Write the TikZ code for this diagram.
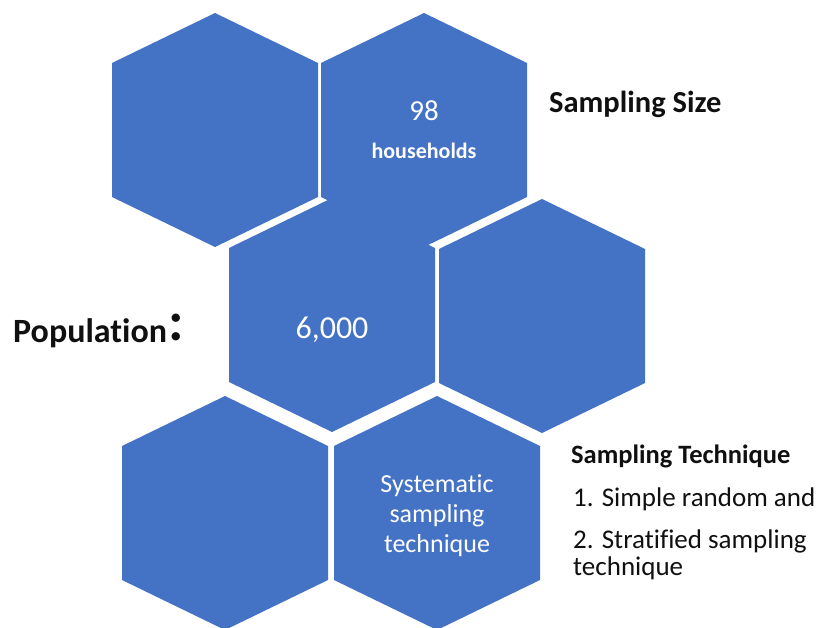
\documentclass[tikz,border=0pt]{standalone}
\usepackage{fontspec}
\setmainfont[Ligatures={NoCommon}]{Carlito}
\definecolor{hexblue}{HTML}{4472C4}
\definecolor{inkdark}{HTML}{101010}
\newcommand\hexcellat[1]{\fill[hexcell] (#1) +(0,-117) -- +(103,-67) -- +(103,67) -- +(0,117) -- +(-103,67) -- +(-103,-67) -- cycle;}
\begin{document}
\begin{tikzpicture}[x=1pt,y=-1pt,
  hexcell/.style={fill=hexblue},
  lbl/.style={anchor=base west, inner sep=0pt, text=inkdark, font=\bfseries},
  listlbl/.style={anchor=base west, inner sep=0pt, text=inkdark, align=left},
  inlbl/.style={anchor=base, inner sep=0pt, text=white, align=center}]
\useasboundingbox (0,0) rectangle (818,628);
\coordinate (h1) at (215,130);
\coordinate (h2) at (424,130);
\coordinate (h3) at (332,315);
\coordinate (h4) at (542,316);
\coordinate (h5) at (225,513);
\coordinate (h6) at (437,513);
\hexcellat{h1}
\hexcellat{h2}
\hexcellat{h3}
\hexcellat{h4}
\hexcellat{h5}
\hexcellat{h6}
% texts inside hexagons
\node[inlbl, font=\fontsize{29}{29}\selectfont] (n98) at (424,121) {98};
\node[inlbl, font=\fontsize{22}{22}\selectfont\bfseries] (nhh) at (424,159) {households};
\node[inlbl, font=\fontsize{32}{32}\selectfont] (npop) at (332,338) {6,000};
\node[inlbl, font=\fontsize{26}{30}\selectfont] (nsys) at (437,552) {Systematic\\sampling\\technique};
% labels outside
\node[lbl, font=\fontsize{34}{34}\selectfont\bfseries] (lpop) at (13,342) {Population};
\node[lbl, font=\fontsize{56}{56}\selectfont\bfseries] (lcolon) at (168,340) {:};
\node[lbl, font=\fontsize{30.5}{30.5}\selectfont\bfseries] (lsize) at (549,113) {Sampling Size};
\node[lbl, font=\fontsize{26.5}{26.5}\selectfont\bfseries] (ltech) at (571,463) {Sampling Technique};
\node[listlbl, font=\fontsize{27}{27}\selectfont] (lone) at (573,506) {1. Simple random and};
\node[listlbl, font=\fontsize{27}{27}\selectfont] (ltwo) at (573,575) {2. Stratified sampling\\technique};
\end{tikzpicture}
\end{document}
